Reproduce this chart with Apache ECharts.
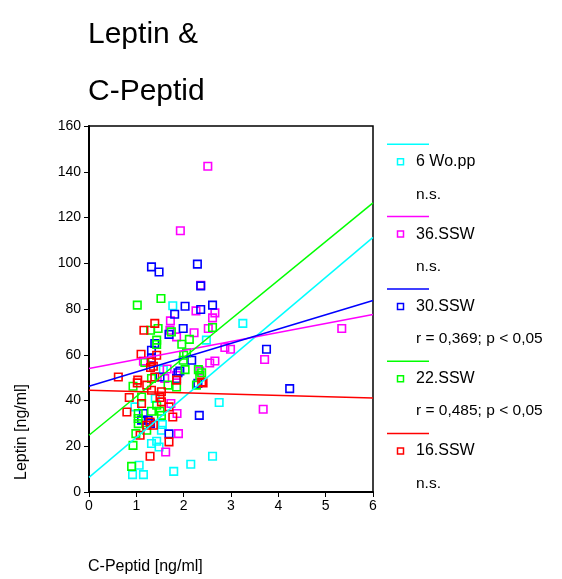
<!DOCTYPE html>
<html>
<head>
<meta charset="utf-8">
<script src="https://cdn.jsdelivr.net/npm/echarts@6/dist/echarts.min.js"></script>
<style>html,body{margin:0;padding:0;background:#fff}#c{width:562px;height:579px}</style>
</head>
<body>
<div id="c"></div>
<script>
// ---- data ----
var seriesNames = ['6 Wo.pp', '36.SSW', '30.SSW', '22.SSW', '16.SSW'];
var seriesStats = ['n.s.', 'n.s.', 'r = 0,369; p < 0,05', 'r = 0,485; p < 0,05', 'n.s.'];
var seriesColors = ['#00FFFF', '#FF00FF', '#0000FF', '#00FF00', '#FF0000'];

var wo6 = [[1.77,81.4],[3.25,73.7],[2.48,66.4],[2.75,39.1],[2.61,15.6],[2.15,12.1],[1.79,9.0],[1.55,29.5],[1.53,27],[0.97,37.2],[1.40,40.9],[1.32,21.2],[1.43,22.2],[1.48,19.7],[1.06,11.7],[0.92,7.6],[1.15,7.6],[1.57,53.5]];
var ssw36 = [[2.51,142.4],[1.93,114.2],[2.36,90.4],[2.26,79.2],[2.66,78.3],[2.61,76.1],[2.52,71.5],[2.22,69.6],[1.85,67.8],[2.87,63.2],[2.99,62.4],[3.71,57.9],[2.55,56.4],[2.66,57.3],[3.68,36.2],[1.86,34.3],[1.89,25.5],[1.73,38.7],[5.34,71.5],[1.72,74.8],[1.71,70.7],[2.34,52.9],[1.15,57.2],[1.62,17.5],[1.65,53.8],[1.85,51],[1.6,49.6]];
var ssw30 = [[1.32,98.4],[1.48,96.2],[2.29,99.6],[2.36,90.1],[2.61,81.7],[2.03,81.2],[1.81,77.7],[2.36,79.8],[1.99,71.5],[3.75,62.4],[2.17,57.6],[1.88,52.1],[1.69,68.9],[1.92,52.9],[1.39,64.9],[1.32,62],[1.32,58.4],[2.33,33.5],[1.69,25.4],[4.24,45.2],[1.15,34.3],[1.25,31.4],[1.5,50.3],[1.85,49.6],[1.11,31.4],[1.3,30],[2.3,47.5]];
var ssw22 = [[1.02,81.7],[1.52,84.6],[1.46,71.5],[1.3,70.7],[1.43,66.4],[1.43,64.5],[1.74,70],[1.18,56.6],[2.61,71.9],[2.12,66.7],[1.96,64.6],[2.0,59.8],[1.99,57.6],[2.31,53.5],[2.38,52.1],[2.03,53.5],[2.06,60.8],[1.32,49.6],[0.93,46.2],[1.11,41.5],[1.43,37.9],[1.53,33.5],[1.04,34.3],[1.04,29.9],[0.99,25.5],[0.93,20.4],[0.9,11.2],[1.22,27],[1.67,46.7],[1.32,35.3],[1.04,32.1],[1.5,35.3],[1.85,45.9],[2.27,46.7],[2.34,51]];
var ssw16 = [[1.39,73.7],[1.16,70.7],[1.1,60.2],[1.43,59.8],[1.32,56.9],[1.36,55],[0.62,50.3],[1.03,48.9],[1.3,54.4],[1.39,50.3],[1.02,47.7],[1.22,46.7],[1.32,44.5],[0.85,41.3],[1.11,38.7],[1.5,41.3],[1.53,39.4],[1.69,37.2],[0.8,35],[1.29,30.6],[1.22,29.2],[1.08,24.8],[1.69,21.9],[1.29,15.6],[1.53,43.8],[1.77,32.8],[1.85,48.9],[2.38,48.1],[2.41,47.7],[1.36,29.2]];

// regression line end points [x, y] at x = 0 and x = 6
var fitWo6 = [[0,6.4],[6,111.3]];
var fit36 = [[0,54],[6,77.6]];
var fit30 = [[0,46.2],[6,83.7]];
var fit22 = [[0,24.8],[6,126.4]];
var fit16 = [[0,44.5],[6,41.1]];

var titleLines = ['Leptin &', 'C-Peptid'];
var xName = 'C-Peptid [ng/ml]';
var yName = 'Leptin [ng/ml]';

// ---- chart ----
var pointSets = [wo6, ssw36, ssw30, ssw22, ssw16];
var fitSets = [fitWo6, fit36, fit30, fit22, fit16];
var FONT = 'Liberation Sans, Arial, sans-serif';

var series = [];
pointSets.forEach(function (d, i) {
  series.push({
    type: 'scatter', name: seriesNames[i], data: d, symbol: 'rect', symbolSize: 7.5,
    itemStyle: { color: 'rgba(0,0,0,0)', borderColor: seriesColors[i], borderWidth: 1.6, opacity: 1 },
    z: 2, silent: true
  });
});
fitSets.forEach(function (d, i) {
  series.push({
    type: 'line', name: seriesNames[i] + ' fit', data: d, symbol: 'none',
    lineStyle: { color: seriesColors[i], width: 1.5 }, z: 3, silent: true, animation: false
  });
});

var graphic = [];
titleLines.forEach(function (t, i) {
  graphic.push({ type: 'text', left: 88, top: 20 + i * 57,
    style: { text: t, font: '30px ' + FONT, fill: '#000' } });
});
graphic.push({ type: 'text', left: 88, top: 559, style: { text: xName, font: '16px ' + FONT, fill: '#000' } });
graphic.push({ type: 'text', x: 22, y: 480, rotation: Math.PI / 2,
  style: { text: yName, font: '16px ' + FONT, fill: '#000', align: 'left', verticalAlign: 'middle' } });

var legendTop = 144.3, legendStep = 72.3;
seriesNames.forEach(function (n, i) {
  var y0 = legendTop + i * legendStep;
  graphic.push({ type: 'line', shape: { x1: 387, y1: y0, x2: 429, y2: y0 },
    style: { stroke: seriesColors[i], lineWidth: 1.5 } });
  graphic.push({ type: 'rect', shape: { x: 397.5, y: y0 + 14.5, width: 6, height: 6 },
    style: { fill: 'none', stroke: seriesColors[i], lineWidth: 1.5 } });
  graphic.push({ type: 'text', x: 416, y: y0 + 17.5,
    style: { text: n, font: '16px ' + FONT, fill: '#000', verticalAlign: 'middle' } });
  graphic.push({ type: 'text', x: 416, y: y0 + 50,
    style: { text: seriesStats[i], font: '15.5px ' + FONT, fill: '#000', verticalAlign: 'middle' } });
});

var chart = echarts.init(document.getElementById('c'), null, { renderer: 'canvas' });
chart.setOption({
  animation: false,
  backgroundColor: '#fff',
  grid: { left: 89, top: 126, width: 284, height: 366, containLabel: false, show: true, borderColor: '#000', borderWidth: 1.5, backgroundColor: 'transparent' },
  xAxis: {
    type: 'value', min: 0, max: 6, interval: 1,
    axisLine: { show: true, lineStyle: { color: '#000', width: 2 } },
    axisTick: { show: true, length: 5, lineStyle: { color: '#000', width: 1 } },
    axisLabel: { color: '#000', fontFamily: FONT, fontSize: 14, margin: 7 },
    splitLine: { show: false }
  },
  yAxis: {
    type: 'value', min: 0, max: 160, interval: 20,
    axisLine: { show: true, lineStyle: { color: '#000', width: 2 } },
    axisTick: { show: true, length: 5, lineStyle: { color: '#000', width: 1 } },
    axisLabel: { color: '#000', fontFamily: FONT, fontSize: 14, margin: 8 },
    splitLine: { show: false }
  },
  graphic: graphic,
  series: series
});
</script>
</body>
</html>
